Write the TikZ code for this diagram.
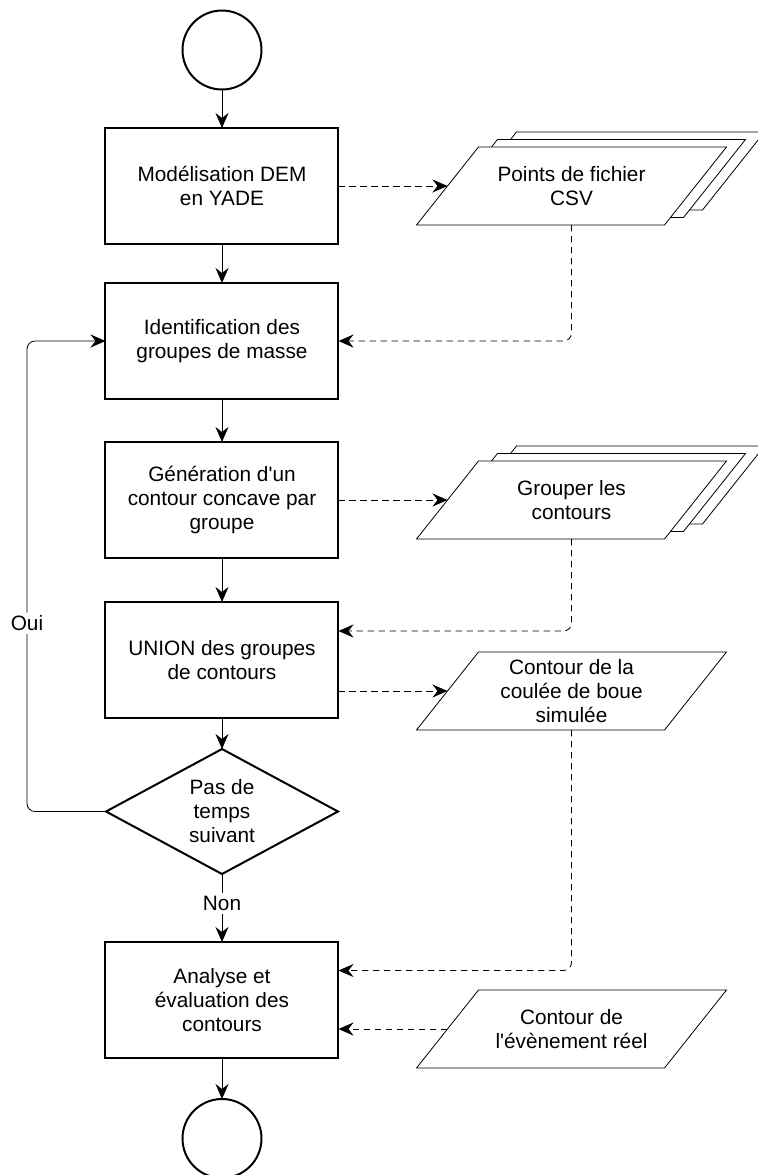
\documentclass[tikz,border=0pt]{standalone}
\usepackage{fontspec}
\setmainfont{Liberation Sans}
\usetikzlibrary{positioning,shapes.geometric,arrows.meta,backgrounds}

\begin{document}
\begin{tikzpicture}[line width=1pt,
         font=\fontsize{10.4}{12}\selectfont,
         process/.style = {draw, rectangle, minimum width=116.5pt,
         minimum height=58pt, inner sep=2pt, outer sep=0pt, align=center},
         terminal/.style = {draw, circle, minimum size=39.5pt, inner sep=0pt,
         outer sep=0pt},
         decision/.style = {draw, diamond, aspect=1.86, minimum width=116pt,
         minimum height=62.5pt, inner sep=0pt, outer sep=0pt, align=center},
         iodata/.style = {rectangle, minimum width=124pt, minimum height=39pt,
         inner sep=0pt, outer sep=0pt, align=center},
         slant/.style = {draw, fill=white},
         flow/.style = {-{Stealth[length=7.5pt, width=6.5pt, inset=2.5pt]}},
         dataflow/.style = {flow, dash pattern=on 3.2pt off 2.3pt},
         answer/.style = {fill=white, inner sep=1.5pt}
]
   \path[use as bounding box] (-111pt,25pt) rectangle (267.5pt,-562.5pt);

   \node[terminal] (t0) at (0,0) {};
   \node[process, below=19.25pt of t0] (b1) {Modélisation DEM\\en YADE};
   \node[process, below=19.5pt of b1] (b2) {Identification des\\groupes de masse};
   \node[process, below=21.5pt of b2] (b3) {Génération d\textquotesingle un\\contour concave par\\groupe};
   \node[process, below=22pt of b3] (b4) {UNION des groupes\\de contours};
   \node[decision, below=15.5pt of b4] (q) {Pas de\\temps\\suivant};
   \node[process, below=34pt of q] (b5) {Analyse et\\évaluation des\\contours};
   \node[terminal, below=20.5pt of b5] (t1) {};

   \node[iodata, right=54.5pt of b1] (io1) {Points de fichier\\CSV};
   \node[iodata, right=54.5pt of b3] (io2) {Grouper les\\contours};
   \node[iodata, right=54.5pt of b4, yshift=-15.5pt] (io3) {Contour de la\\coulée de boue\\simulée};
   \node[iodata, right=54.5pt of b5, yshift=-14.5pt] (io4) {Contour de\\l\textquotesingle évènement réel};

   % parallelograms (stacked copies behind the first two)
   \begin{pgfonlayer}{background}
      \foreach \n/\k in {io1/2, io2/2, io1/1, io2/1, io1/0, io2/0, io3/0, io4/0} {
         \draw[slant]
            ([xshift=15.5pt+\k*9.5pt, yshift=\k*3.75pt]\n.north west)
            -- ([xshift=15.5pt+\k*9.5pt, yshift=\k*3.75pt]\n.north east)
            -- ([xshift=-15.5pt+\k*9.5pt, yshift=\k*3.75pt]\n.south east)
            -- ([xshift=-15.5pt+\k*9.5pt, yshift=\k*3.75pt]\n.south west)
            -- cycle;
      }
   \end{pgfonlayer}

   \draw[flow] (t0) -- (b1);
   \draw[flow] (b1) -- (b2);
   \draw[flow] (b2) -- (b3);
   \draw[flow] (b3) -- (b4);
   \draw[flow] (b4) -- (q);
   \draw[flow] (q) -- node[answer, pos=0.43] {Non} (b5);
   \draw[flow] (b5) -- (t1);
   \draw[flow, rounded corners=4pt] (q.west) -- ++(-39.5pt,0)
      |- (b2.west) node[answer, pos=0.2] {Oui};

   \draw[dataflow] (b1) -- (io1);
   \draw[dataflow, rounded corners=4pt] (io1.south) |- (b2.east);
   \draw[dataflow] (b3) -- (io2);
   \draw[dataflow, rounded corners=4pt] (io2.south) |- ([yshift=14.5pt]b4.east);
   \draw[dataflow] (io3.west -| b4.east) -- (io3.west);
   \draw[dataflow, rounded corners=4pt] (io3.south) |- ([yshift=14.75pt]b5.east);
   \draw[dataflow] (io4.west) -- (io4.west -| b5.east);
\end{tikzpicture}
\end{document}
